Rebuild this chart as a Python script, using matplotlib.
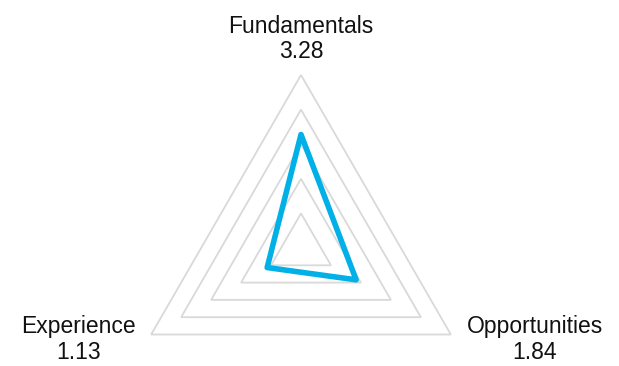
import numpy as np
import matplotlib
matplotlib.use('Agg')
from matplotlib import pyplot as plt

categories = ['Fundamentals', 'Opportunities', 'Experience']
values = [3.28, 1.84, 1.13]
levels = [1, 2, 3, 4, 5]

blue = '#00B0E6'
grey = '#D9D9D9'

plt.rcParams['font.family'] = ['Liberation Sans', 'DejaVu Sans']

fig = plt.figure(figsize=(6.19, 3.66), dpi=100)
# polar axes: centre at (301, 248) px, radius 173 px
R = 173
cx, cy = 301, 248
W, H = 619, 366
ax = fig.add_axes([(cx - R) / W, (H - cy - R) / H, 2 * R / W, 2 * R / H],
                  projection='polar')
ax.set_theta_offset(np.pi / 2)
ax.set_theta_direction(-1)
ax.set_ylim(0, 5)
ax.axis('off')

angles = np.linspace(0, 2 * np.pi, len(categories), endpoint=False)

for lv in levels:
    ax.fill(angles, [lv] * len(angles), facecolor='none', edgecolor=grey,
            lw=1.3, clip_on=False, zorder=1)

# closed polygon so the corner at the top joins cleanly
ax.fill(angles, values, facecolor='none', edgecolor=blue, lw=4,
        joinstyle='round', clip_on=False, zorder=3)

offsets = [(0, 36), (84, -5), (-73, -5)]
for ang, name, v, off in zip(angles, categories, values, offsets):
    ax.annotate(f'{name}\n{v:.2f}', xy=(ang, 5), xytext=off, textcoords='offset pixels',
                ha='center', va='center', fontsize=16.5, color='#111111',
                linespacing=1.15, annotation_clip=False)

fig.savefig('out.png', dpi=100)
